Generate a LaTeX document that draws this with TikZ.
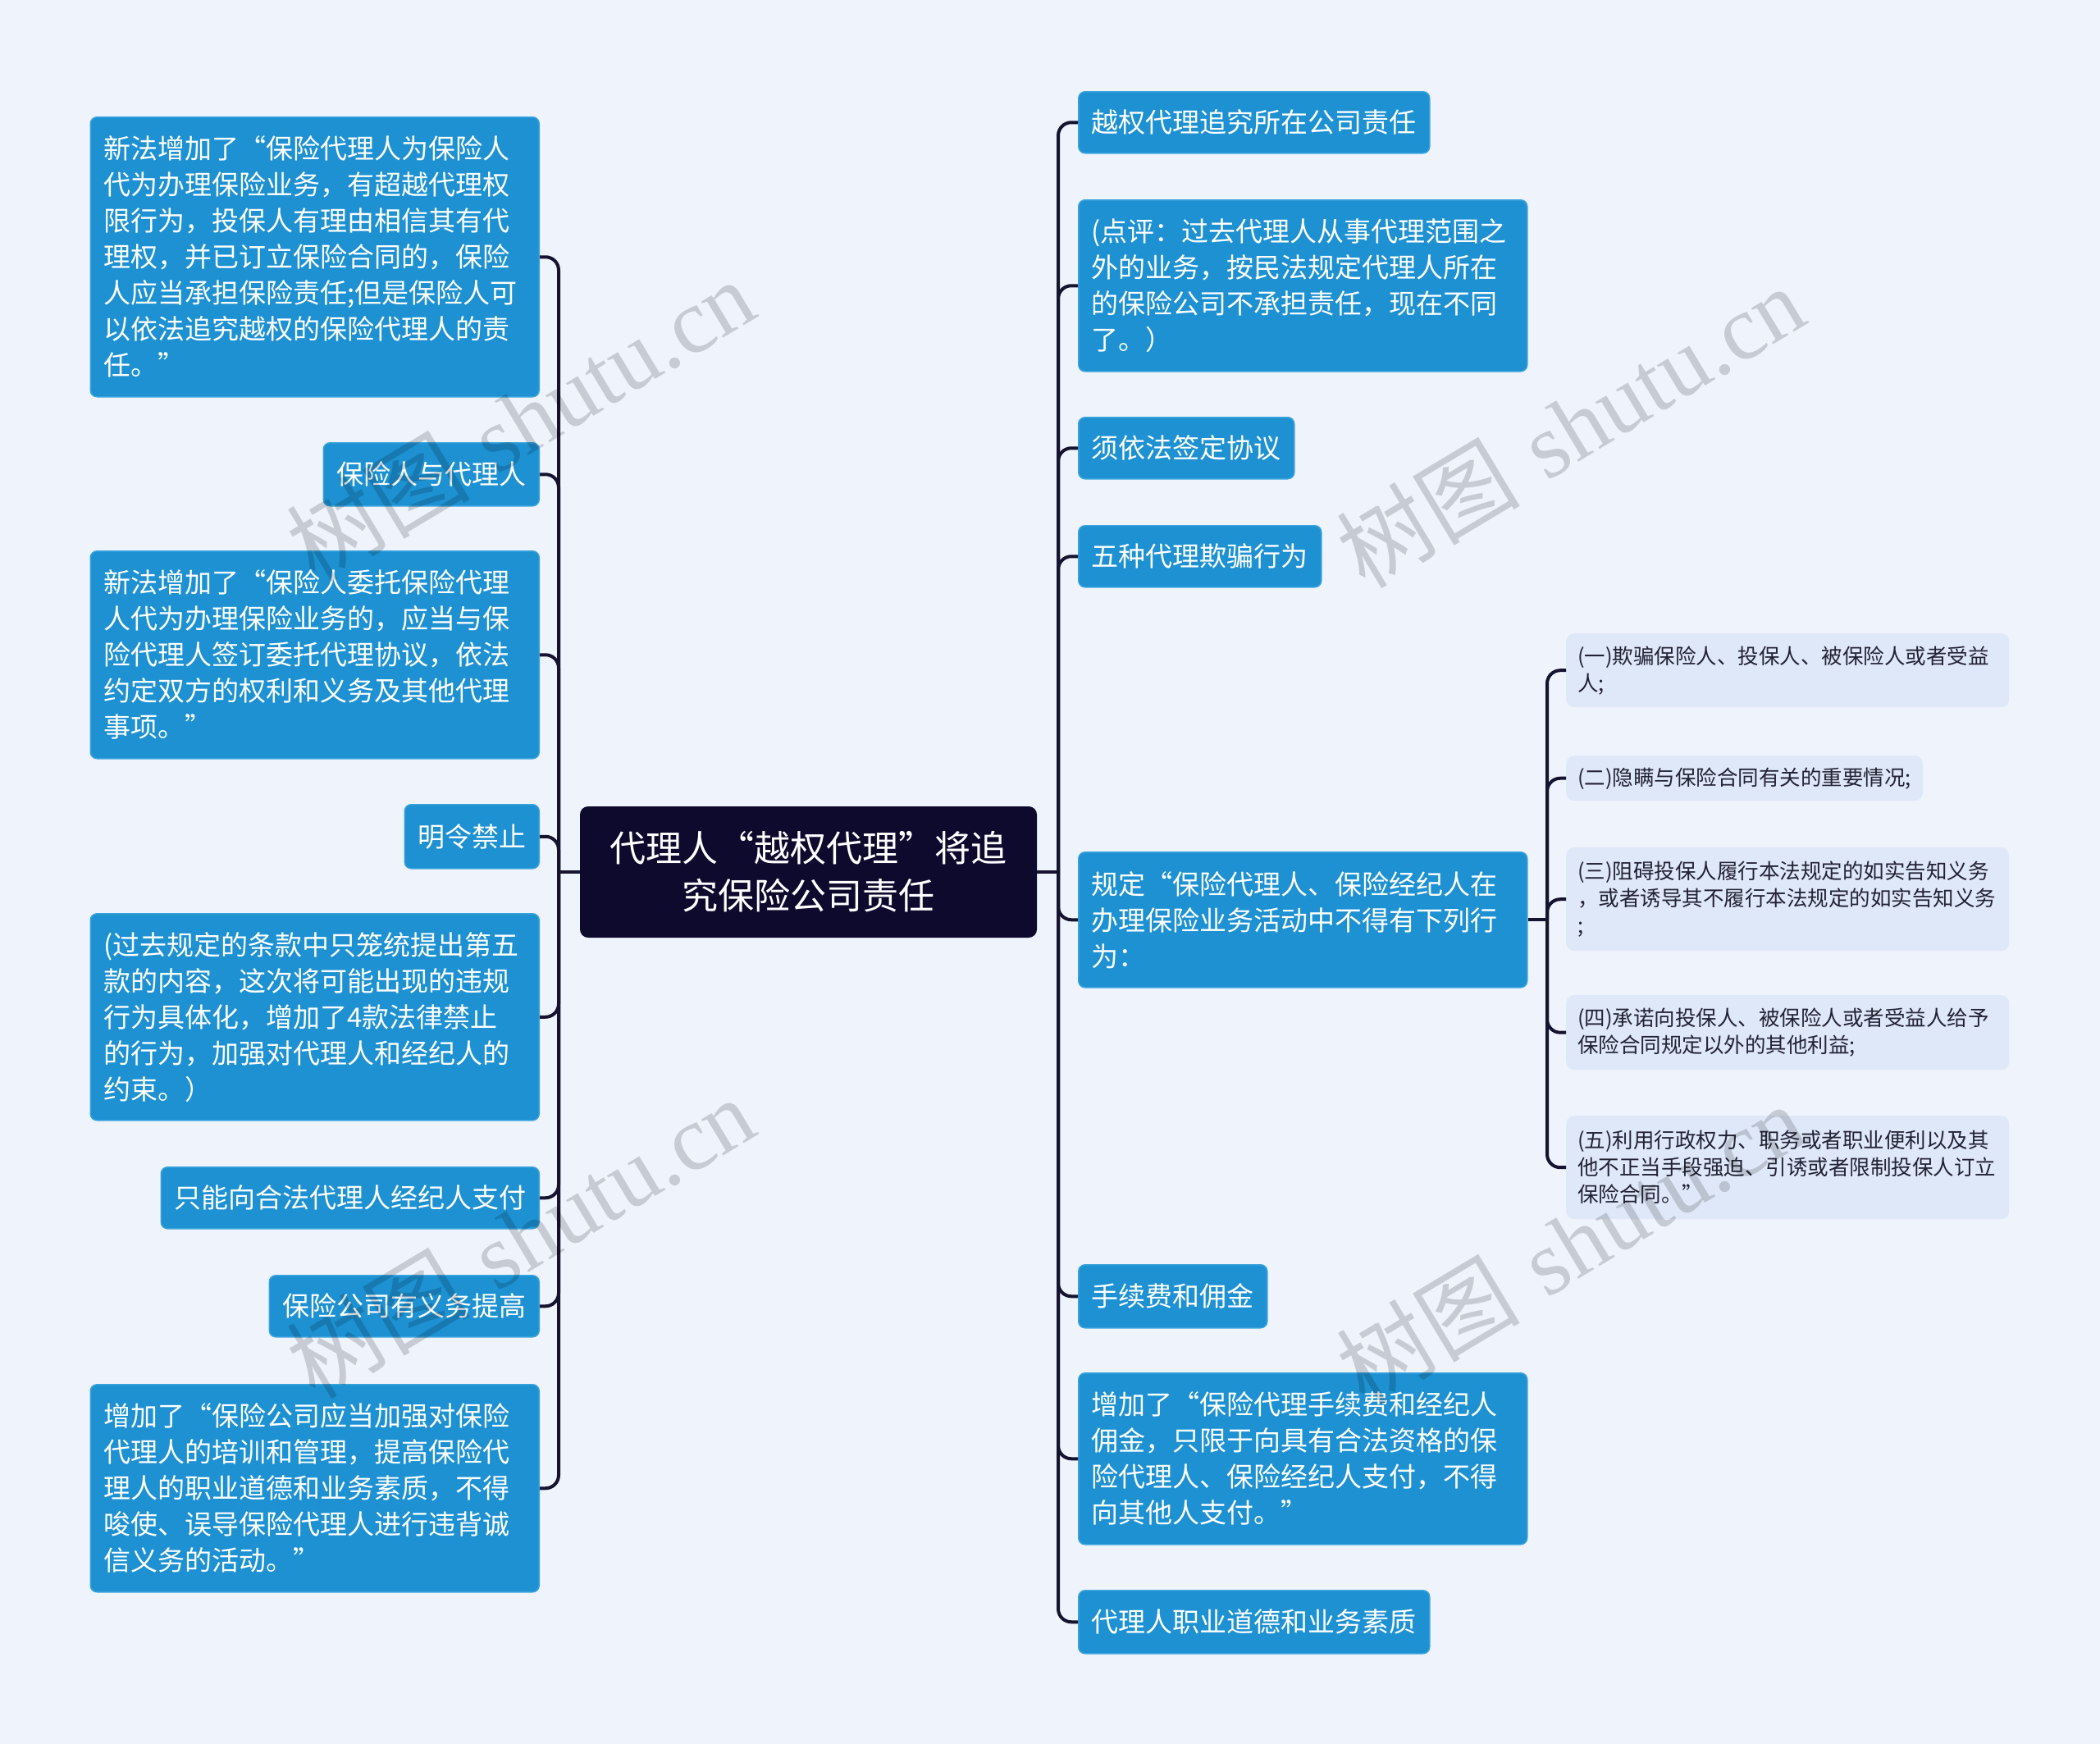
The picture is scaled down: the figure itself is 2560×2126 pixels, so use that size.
\documentclass[tikz,border=0pt]{standalone}
\usepackage{fontspec}
\newfontfamily\cjk{Noto Sans CJK SC}
\newfontfamily\wmlatin{Liberation Serif}
\definecolor{bgc}{HTML}{EEF3FC}
\definecolor{nodeblue}{HTML}{1D91D2}
\definecolor{nodeborder}{HTML}{3AA3DC}
\definecolor{subfill}{HTML}{DFE8F8}
\definecolor{subtext}{HTML}{222233}
\definecolor{rootfill}{HTML}{0D0A2E}
\definecolor{linkc}{HTML}{15132F}
\tikzset{
  bluebox/.style={rectangle, rounded corners=8pt, fill=nodeblue, draw=nodeborder, line width=1.5pt,
    text=white, font=\cjk\fontsize{33}{44}\selectfont, align=left, inner xsep=16pt, inner ysep=8pt},
  widebox/.style={bluebox, text width=515pt, minimum width=547pt},
  subbox/.style={rectangle, rounded corners=10pt, fill=subfill, draw=none,
    text=subtext, font=\cjk\fontsize{25.5}{33}\selectfont, align=left, inner xsep=14pt, inner ysep=6pt},
  widesub/.style={subbox, text width=512pt, minimum width=540pt},
  rootbox/.style={rectangle, rounded corners=10pt, fill=rootfill, draw=none,
    text=white, font=\cjk\fontsize{44}{58}\selectfont, align=center},
  link/.style={draw=linkc, line width=4pt, rounded corners=16pt},
  wm/.style={rotate=31, text=black, text opacity=0.16, font=\fontsize{112}{112}\selectfont}
}
\begin{document}
\begin{tikzpicture}[x=1pt,y=-1pt]
\fill[bgc] (0,0) rectangle (2560,2126);
\useasboundingbox (0,0) rectangle (2560,2126);

% root
\node[rootbox, minimum width=557pt, minimum height=160pt] (root) at (985.5,1063) {代理人“越权代理”将追\\究保险公司责任};

% left children
\node[widebox, anchor=north east, minimum height=341pt] (L1) at (658,142) {新法增加了“保险代理人为保险人\\代为办理保险业务，有超越代理权\\限行为，投保人有理由相信其有代\\理权，并已订立保险合同的，保险\\人应当承担保险责任;但是保险人可\\以依法追究越权的保险代理人的责\\任。”};
\node[bluebox, anchor=north east, minimum height=77pt] (L2) at (658,539) {保险人与代理人};
\node[widebox, anchor=north east, minimum height=253pt] (L3) at (658,671) {新法增加了“保险人委托保险代理\\人代为办理保险业务的，应当与保\\险代理人签订委托代理协议，依法\\约定双方的权利和义务及其他代理\\事项。”};
\node[bluebox, anchor=north east, minimum height=78pt] (L4) at (658,980) {明令禁止};
\node[widebox, anchor=north east, minimum height=252pt] (L5) at (658,1113) {(过去规定的条款中只笼统提出第五\\款的内容，这次将可能出现的违规\\行为具体化，增加了4款法律禁止\\的行为，加强对代理人和经纪人的\\约束。）};
\node[bluebox, anchor=north east, minimum height=75pt] (L6) at (658,1422) {只能向合法代理人经纪人支付};
\node[bluebox, anchor=north east, minimum height=75pt] (L7) at (658,1554) {保险公司有义务提高};
\node[widebox, anchor=north east, minimum height=253pt] (L8) at (658,1687) {增加了“保险公司应当加强对保险\\代理人的培训和管理，提高保险代\\理人的职业道德和业务素质，不得\\唆使、误导保险代理人进行违背诚\\信义务的活动。”};

% right children
\node[bluebox, anchor=north west, minimum height=75pt] (R1) at (1314,111) {越权代理追究所在公司责任};
\node[widebox, anchor=north west, minimum height=209pt] (R2) at (1314,243) {(点评：过去代理人从事代理范围之\\外的业务，按民法规定代理人所在\\的保险公司不承担责任，现在不同\\了。）};
\node[bluebox, anchor=north west, minimum height=75pt] (R3) at (1314,508) {须依法签定协议};
\node[bluebox, anchor=north west, minimum height=75pt] (R4) at (1314,640) {五种代理欺骗行为};
\node[widebox, anchor=north west, minimum height=165pt] (R5) at (1314,1038) {规定“保险代理人、保险经纪人在\\办理保险业务活动中不得有下列行\\为：};
\node[bluebox, anchor=north west, minimum height=77pt] (R6) at (1314,1541) {手续费和佣金};
\node[widebox, anchor=north west, minimum height=209pt] (R7) at (1314,1673) {增加了“保险代理手续费和经纪人\\佣金，只限于向具有合法资格的保\\险代理人、保险经纪人支付，不得\\向其他人支付。”};
\node[bluebox, anchor=north west, minimum height=77pt] (R8) at (1314,1938) {代理人职业道德和业务素质};

% sub children
\node[widesub, anchor=north west, minimum height=90pt] (S1) at (1909,772) {(一)欺骗保险人、投保人、被保险人或者受益\\人;};
\node[subbox, anchor=north west, minimum height=55pt] (S2) at (1909,921) {(二)隐瞒与保险合同有关的重要情况;};
\node[widesub, anchor=north west, minimum height=126pt] (S3) at (1909,1033) {(三)阻碍投保人履行本法规定的如实告知义务\\，或者诱导其不履行本法规定的如实告知义务\\;};
\node[widesub, anchor=north west, minimum height=91pt] (S4) at (1909,1213) {(四)承诺向投保人、被保险人或者受益人给予\\保险合同规定以外的其他利益;};
\node[widesub, anchor=north west, minimum height=126pt] (S5) at (1909,1360) {(五)利用行政权力、职务或者职业便利以及其\\他不正当手段强迫、引诱或者限制投保人订立\\保险合同。”};

% connectors
\coordinate (lsp) at (681,1063);
\coordinate (rsp) at (1290,1063);
\coordinate (sx) at (1886,0);
\coordinate (ssp) at (R5.east -| sx);
\draw[link] (root.west) -- (lsp);
\draw[link] (root.east) -- (rsp);
\foreach \n in {L1,L2,L3,L4,L5,L6,L7,L8}
  \draw[link] (lsp) |- (\n.east);
\foreach \n in {R1,R2,R3,R4,R5,R6,R7,R8}
  \draw[link] (rsp) |- (\n.west);
\draw[link] (R5.east) -- (ssp);
\foreach \n in {S1,S2,S3,S4,S5}
  \draw[link] (ssp) |- (\n.west);

% watermarks
\foreach \p [count=\i] in {(634,512),(634,1508),(1914,520),(1914,1516)}
  \node[wm] (wm\i) at \p {{\cjk 树图} {\wmlatin shutu.cn}};
\end{tikzpicture}
\end{document}
